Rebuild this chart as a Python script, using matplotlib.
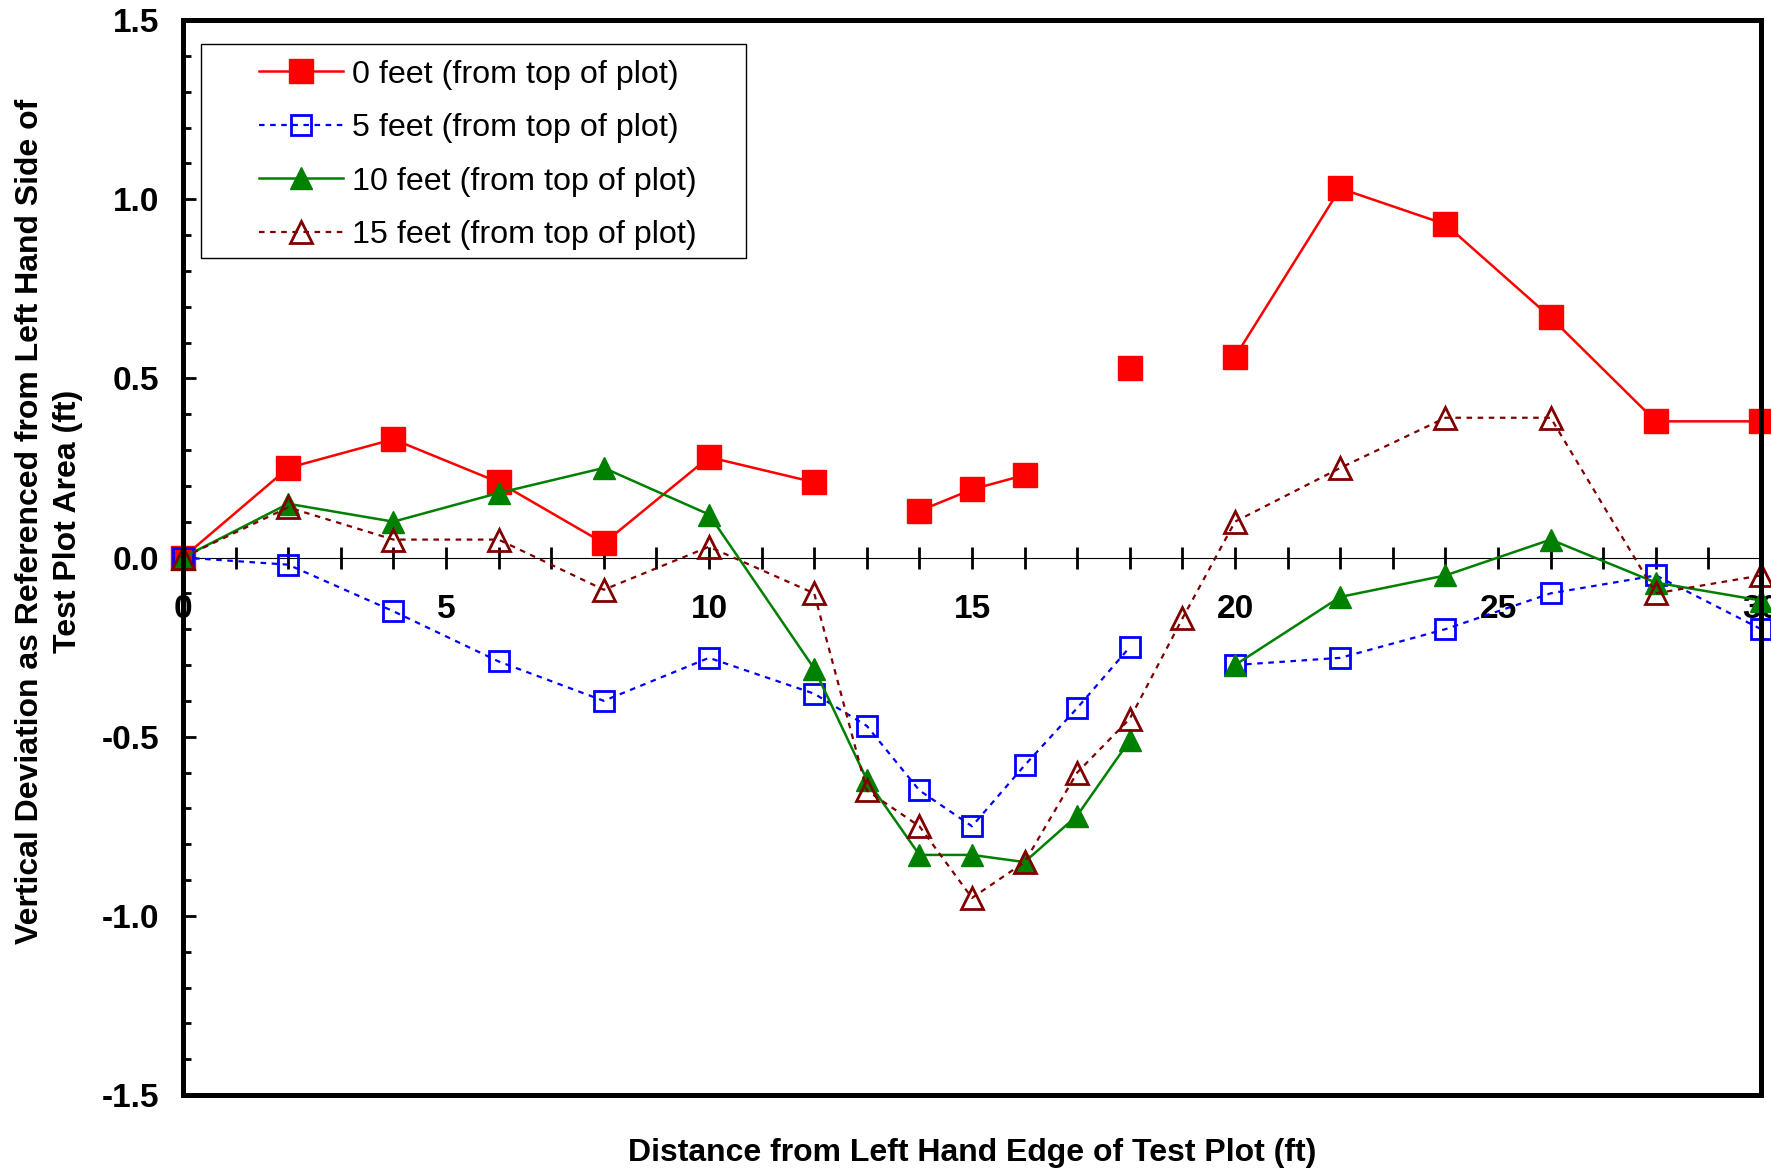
import numpy as np
import matplotlib
matplotlib.use("Agg")
import matplotlib.pyplot as plt
from matplotlib.patches import Rectangle
from matplotlib.ticker import MultipleLocator, FixedLocator, FixedFormatter

plt.rcParams['font.family'] = ['Liberation Sans', 'DejaVu Sans']
plt.rcParams['axes.unicode_minus'] = False

# ---- data ----
x = [0, 2, 4, 6, 8, 10, 12, 13, 14, 15, 16, 17, 18, 19, 20, 22, 24, 26, 28, 30]
nan = np.nan
y0 = [0.00, 0.25, 0.33, 0.21, 0.04, 0.28, 0.21, nan, 0.13, 0.19, 0.23, nan, 0.53, nan, 0.56, 1.03, 0.93, 0.67, 0.38, 0.38]
y5 = [0.00, -0.02, -0.15, -0.29, -0.40, -0.28, -0.38, -0.47, -0.65, -0.75, -0.58, -0.42, -0.25, nan, -0.30, -0.28, -0.20, -0.10, -0.05, -0.20]
y10 = [0.00, 0.15, 0.10, 0.18, 0.25, 0.12, -0.31, -0.62, -0.83, -0.83, -0.85, -0.72, -0.51, nan, -0.30, -0.11, -0.05, 0.05, -0.07, -0.12]
y15 = [0.00, 0.14, 0.05, 0.05, -0.09, 0.03, -0.10, -0.65, -0.75, -0.95, -0.85, -0.60, -0.45, -0.17, 0.10, 0.25, 0.39, 0.39, -0.10, -0.05]

labels = ["0 feet (from top of plot)", "5 feet (from top of plot)",
          "10 feet (from top of plot)", "15 feet (from top of plot)"]
ytick_vals = [-1.5, -1.0, -0.5, 0.0, 0.5, 1.0, 1.5]
ytick_labels = ["-1.5", "-1.0", "-0.5", "0.0", "0.5", "1.0", "1.5"]
xtick_vals = [0, 5, 10, 15, 20, 25, 30]
xtick_labels = ["0", "5", "10", "15", "20", "25", "30"]
xlabel = "Distance from Left Hand Edge of Test Plot (ft)"
ylabel = "Vertical Deviation as Referenced from Left Hand Side of\nTest Plot Area (ft)"

fig = plt.figure(figsize=(17.71, 11.70), dpi=100)
ax = fig.add_axes([0.1033, 0.0641, 0.9944 - 0.1033, 0.9829 - 0.0641])

ax.plot(x, y0, color='#FF0000', lw=1.8, ls='-', marker='s', ms=17,
        mfc='#FF0000', mec='#FF0000', clip_on=False, label=labels[0])
ax.plot(x, y5, color='#0000FF', lw=1.6, ls=(0, (2.5, 2.5)), marker='s', ms=15,
        mfc='none', mec='#0000FF', mew=2.0, clip_on=False, label=labels[1])
ax.plot(x, y10, color='#008000', lw=1.8, ls='-', marker='^', ms=16,
        mfc='#008000', mec='#008000', clip_on=False, label=labels[2])
ax.plot(x, y15, color='#800000', lw=1.6, ls=(0, (2.5, 2.5)), marker='^', ms=16,
        mfc='none', mec='#800000', mew=2.0, clip_on=False, label=labels[3])

ax.set_xlim(0, 30)
ax.set_ylim(-1.5, 1.5)

for s in ax.spines.values():
    s.set_linewidth(3.6)
    s.set_color('black')

ax.tick_params(axis='x', which='both', bottom=False, labelbottom=False)

# y axis
ax.yaxis.set_major_locator(FixedLocator(ytick_vals))
ax.yaxis.set_major_formatter(FixedFormatter(ytick_labels))
ax.yaxis.set_minor_locator(MultipleLocator(0.1))
ax.tick_params(axis='y', which='major', direction='in', length=9, width=2,
               pad=17, labelsize=24)
ax.tick_params(axis='y', which='minor', direction='in', length=6, width=2)
for t in ax.get_yticklabels():
    t.set_fontweight('bold')

# zero line axis with crossing ticks
sec = ax.secondary_xaxis(0.5)
sec.xaxis.set_ticks_position('bottom')
sec.spines['bottom'].set_linewidth(2.2)
sec.xaxis.set_major_locator(FixedLocator(xtick_vals))
sec.xaxis.set_major_formatter(FixedFormatter(xtick_labels))
sec.xaxis.set_minor_locator(MultipleLocator(1))
sec.tick_params(axis='x', which='both', bottom=True, top=False,
                labelbottom=True, labeltop=False)
sec.tick_params(axis='x', which='major', direction='inout', length=16, width=2,
                pad=18, labelsize=24)
sec.tick_params(axis='x', which='minor', direction='inout', length=16, width=2)
for t in sec.get_xticklabels():
    t.set_fontweight('bold')

ax.set_xlabel(xlabel, fontsize=23, fontweight='bold')
ax.xaxis.label.set_va('center')
ax.xaxis.set_label_coords(0.5, -0.054)
ax.set_ylabel(ylabel, fontsize=23, fontweight='bold', linespacing=1.35)
ax.yaxis.label.set_va('center')
ax.yaxis.label.set_ha('center')
ax.yaxis.set_label_coords(-0.0847, 0.534)

# legend frame (wider than the entries, as in the reference)
ax.add_patch(Rectangle((0.0114, 0.7786), 0.357 - 0.0114, 0.9777 - 0.7786,
                       transform=ax.transAxes, facecolor='white', edgecolor='black',
                       lw=1.0, zorder=4, clip_on=False))
leg = ax.legend(loc='upper left', bbox_to_anchor=(0.048, 0.9632), borderaxespad=0,
                borderpad=0, fontsize=23.2, frameon=False, handlelength=2.63,
                labelspacing=0.73, handletextpad=0.28)
leg.set_zorder(5)

fig.savefig("out.png", dpi=100)
